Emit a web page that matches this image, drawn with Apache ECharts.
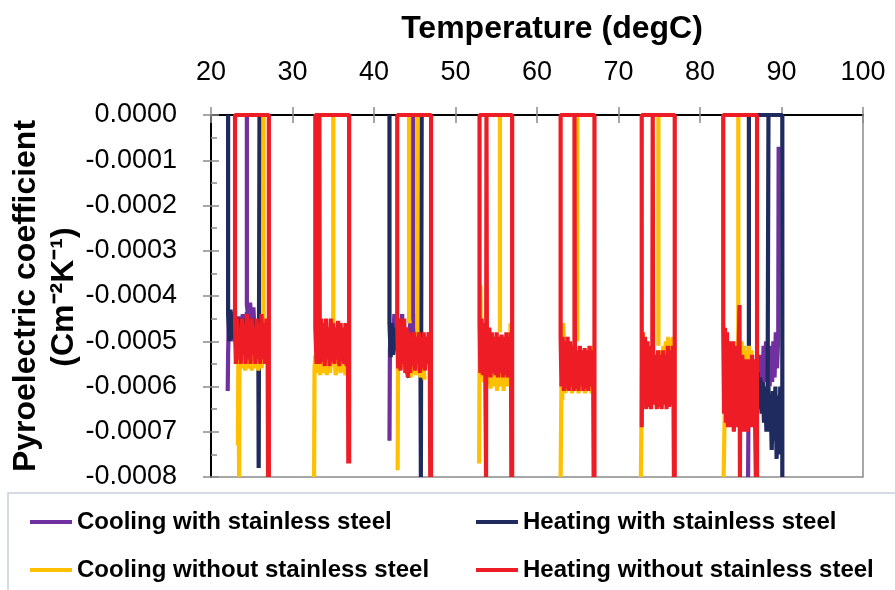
<!DOCTYPE html>
<html><head><meta charset="utf-8">
<script src="https://cdn.jsdelivr.net/npm/echarts@6/dist/echarts.min.js"></script>
<style>html,body{margin:0;padding:0;background:#fff}#c{width:895px;height:590px}</style>
</head><body><div id="c"></div>
<script>
// ---------- chart values ----------
const xTicks = [20, 30, 40, 50, 60, 70, 80, 90, 100];
const yTicks = [-0.0008, -0.0007, -0.0006, -0.0005, -0.0004, -0.0003, -0.0002, -0.0001, 0];
const xTitle = 'Temperature (degC)';
const yTitle1 = 'Pyroelectric coefficient';
const yTitle2 = '(Cm\u207B\u00B2K\u207B\u00B9)';
const seriesNames = ['Cooling with stainless steel', 'Heating with stainless steel',
                     'Cooling without stainless steel', 'Heating without stainless steel'];
const seriesColors = ['#7030A0', '#1F2A5E', '#FFC000', '#EE1C25'];

// each series: list of traced paths of [temperature, coefficient]
const coolingWithSS = [
 [[24.4,0],[24.4,-4.2e-4],[24.6,-4.5e-4],[24.8,-4.15e-4],[25.0,-4.6e-4],[25.2,-4.25e-4],[25.35,-4.8e-4],[25.15,-5.0e-4],[24.9,-4.3e-4],[24.65,-5.0e-4],[24.4,-4.35e-4],[24.15,-5.0e-4],[23.9,-4.4e-4],[23.65,-5.1e-4],[23.4,-4.45e-4],[23.15,-5.1e-4],[22.9,-4.4e-4],[22.65,-5.0e-4],[22.45,-4.35e-4],[22.3,-5.0e-4],[22.2,-4.4e-4],[22.1,-5.3e-4],[22.05,-6.1e-4]],
 [[44.8,0],[44.8,-4.5e-4],[45.0,-4.8e-4],[45.2,-4.4e-4],[45.4,-5.0e-4],[45.2,-5.3e-4],[44.95,-4.6e-4],[44.7,-5.3e-4],[44.45,-4.6e-4],[44.2,-5.4e-4],[43.95,-4.7e-4],[43.7,-5.4e-4],[43.45,-4.4e-4],[43.2,-5.3e-4],[42.95,-4.5e-4],[42.7,-5.2e-4],[42.5,-4.4e-4],[42.3,-5.1e-4],[42.1,-4.6e-4],[41.95,-5.2e-4],[41.9,-7.2e-4]],
 [[89.65,-0.7e-4],[89.6,-4.9e-4],[89.45,-5.6e-4],[89.3,-4.8e-4],[89.15,-5.8e-4],[89.0,-5.0e-4],[88.85,-5.9e-4],[88.7,-5.1e-4],[88.55,-6.0e-4],[88.4,-5.2e-4],[88.25,-5.8e-4],[88.1,-5.0e-4],[87.95,-5.9e-4],[87.8,-5.1e-4],[87.65,-6.0e-4],[87.5,-5.3e-4],[87.35,-6.2e-4],[87.2,-5.4e-4],[87.0,-6.0e-4],[86.7,-5.5e-4],[86.4,-6.1e-4],[86.1,-5.6e-4],[85.95,-6.5e-4],[85.9,-8e-4]]
];
const heatingWithSS = [
 [[22.1,0],[22.1,-4.4e-4],[22.25,-5.0e-4],[22.4,-4.3e-4],[22.55,-4.95e-4],[22.8,-4.4e-4],[23.1,-5.2e-4],[23.5,-4.5e-4],[23.9,-5.2e-4],[24.3,-4.5e-4],[24.7,-5.2e-4],[25.1,-4.5e-4],[25.5,-5.2e-4],[25.8,-4.6e-4],[25.85,-7.8e-4],[25.95,0]],
 [[41.9,0],[41.9,-4.6e-4],[42.05,-5.35e-4],[42.2,-4.6e-4],[42.35,-5.3e-4],[42.7,-4.7e-4],[43.1,-5.5e-4],[43.5,-4.8e-4],[43.9,-5.6e-4],[44.3,-5.8e-4],[44.7,-4.9e-4],[45.1,-5.6e-4],[45.5,-4.9e-4],[45.7,-5.3e-4],[45.75,-8e-4],[45.85,0]],
 [[90.1,-8e-4],[90.1,0],[86.0,0],[86.0,-5.2e-4],[86.3,-6.0e-4],[86.6,-5.5e-4],[86.9,-6.2e-4],[87.1,-5.7e-4],[87.25,-6.5e-4],[87.4,-5.8e-4],[87.55,-6.6e-4],[87.7,-5.9e-4],[87.85,-6.8e-4],[88.0,-6.0e-4],[88.15,-7.0e-4],[88.3,-5.9e-4],[88.4,0]],
 [[90.0,-6.8e-4],[89.85,-6.0e-4],[89.7,-7.5e-4],[89.55,-6.2e-4],[89.4,-7.6e-4],[89.25,-6.0e-4],[89.1,-7.2e-4],[88.95,-6.1e-4],[88.8,-7.4e-4],[88.65,-6.2e-4],[88.5,-7.0e-4],[88.4,-6.0e-4]]
];
const coolingWithoutSS = [
 [[26.45,0],[26.45,-4.6e-4],[26.4,-5.2e-4],[26.2,-5.6e-4],[26.0,-5.15e-4],[25.8,-5.65e-4],[25.6,-5.2e-4],[25.4,-5.6e-4],[25.2,-5.1e-4],[25.0,-5.65e-4],[24.8,-5.2e-4],[24.6,-5.6e-4],[24.4,-5.15e-4],[24.2,-5.65e-4],[24.0,-5.2e-4],[23.8,-5.6e-4],[23.6,-5.1e-4],[23.5,-5.5e-4],[23.45,-8e-4],[23.35,-5.4e-4],[23.3,-7.3e-4]],
 [[35.0,0],[35.0,-5.0e-4],[35.3,-5.75e-4],[35.6,-5.2e-4],[35.9,-5.7e-4],[36.2,-5.15e-4],[36.5,-5.75e-4],[36.8,-5.3e-4],[34.8,-5.2e-4],[34.6,-5.7e-4],[34.4,-5.1e-4],[34.2,-5.75e-4],[34.0,-5.2e-4],[33.8,-5.7e-4],[33.6,-5.15e-4],[33.4,-5.75e-4],[33.2,-5.2e-4],[33.0,-5.7e-4],[32.8,-5.3e-4],[32.7,-5.6e-4],[32.65,-8e-4]],
 [[44.3,-4.6e-4],[44.3,0],[45.3,0],[45.3,-4.7e-4],[45.6,-5.7e-4],[45.9,-5.2e-4],[46.2,-5.85e-4],[46.0,-5.3e-4],[45.7,-5.8e-4],[45.4,-5.1e-4],[45.1,-5.75e-4],[44.8,-5.0e-4],[44.5,-5.8e-4],[44.2,-5.1e-4],[43.9,-5.7e-4],[43.6,-5.0e-4],[43.3,-5.6e-4],[43.1,-5.0e-4],[42.95,-5.55e-4],[42.9,-7.85e-4]],
 [[55.45,0],[55.45,-4.8e-4]],
 [[56.75,-4.6e-4],[56.7,-5.9e-4],[56.5,-5.2e-4],[56.3,-6.0e-4],[56.1,-5.3e-4],[55.9,-6.1e-4],[55.7,-5.2e-4],[55.5,-6.0e-4],[55.3,-5.3e-4],[55.1,-6.1e-4],[54.9,-5.2e-4],[54.7,-6.0e-4],[54.5,-5.3e-4],[54.3,-6.05e-4],[54.1,-5.2e-4],[53.9,-5.95e-4],[53.7,-5.1e-4],[53.5,-5.9e-4],[53.3,-5.0e-4],[53.15,-5.8e-4],[53.05,-3.75e-4],[52.95,-5.5e-4],[52.9,-7.7e-4]],
 [[64.95,0],[64.95,-5.0e-4]],
 [[66.9,-5.1e-4],[66.7,-6.15e-4],[66.5,-5.3e-4],[66.3,-6.1e-4],[66.1,-5.4e-4],[65.9,-6.15e-4],[65.7,-5.3e-4],[65.5,-6.1e-4],[65.3,-5.4e-4],[65.1,-6.15e-4],[64.9,-5.3e-4],[64.7,-6.1e-4],[64.5,-5.4e-4],[64.3,-6.15e-4],[64.1,-5.3e-4],[63.9,-6.1e-4],[63.7,-5.2e-4],[63.5,-6.15e-4],[63.3,-4.9e-4],[63.2,-4.6e-4],[63.1,-6.3e-4],[63.0,-5.9e-4],[62.9,-8e-4]],
 [[74.9,0],[74.9,-5.1e-4]],
 [[76.7,-4.9e-4],[76.55,-5.8e-4],[76.4,-4.95e-4],[76.25,-5.9e-4],[76.1,-4.9e-4],[75.95,-5.8e-4],[75.8,-5.0e-4],[75.65,-5.9e-4],[75.5,-5.1e-4],[75.3,-6.0e-4],[75.1,-5.2e-4],[74.9,-6.0e-4],[74.7,-5.3e-4],[74.5,-6.1e-4],[74.3,-5.3e-4],[74.1,-6.0e-4],[73.9,-5.2e-4],[73.7,-6.1e-4],[73.5,-5.1e-4],[73.3,-6.0e-4],[73.1,-5.0e-4],[72.95,-4.8e-4],[72.85,-6.0e-4],[72.75,-8e-4]],
 [[84.7,0],[84.7,-5.0e-4]],
 [[86.6,-5.4e-4],[86.45,-6.2e-4],[86.3,-5.2e-4],[86.15,-6.3e-4],[86.0,-5.1e-4],[85.85,-6.2e-4],[85.7,-5.2e-4],[85.55,-6.3e-4],[85.4,-5.1e-4],[85.25,-6.2e-4],[85.1,-5.0e-4],[84.95,-6.1e-4],[84.8,-5.1e-4],[84.6,-6.2e-4],[84.4,-5.0e-4],[84.2,-6.3e-4],[84.0,-5.05e-4],[83.8,-6.4e-4],[83.6,-5.0e-4],[83.4,-6.5e-4],[83.2,-5.2e-4],[83.0,-6.9e-4],[82.9,-8e-4]]
];
const heatingWithoutSS = [
 [[27.1,-8e-4],[27.1,0],[22.95,0],[22.95,-4.6e-4],[23.05,-5.5e-4],[23.2,-4.5e-4],[23.35,-5.4e-4],[23.5,-4.7e-4],[23.65,-5.5e-4],[23.8,-4.5e-4],[23.95,-5.3e-4],[24.1,-4.6e-4],[24.25,-5.5e-4],[24.4,-4.4e-4],[24.55,-5.4e-4],[24.7,-4.6e-4],[24.85,-5.5e-4],[25.0,-4.5e-4],[25.15,-5.3e-4],[25.3,-4.7e-4],[25.45,-5.5e-4],[25.6,-4.5e-4],[25.75,-5.4e-4],[25.9,-4.6e-4],[26.05,-5.5e-4],[26.2,-4.4e-4],[26.35,-5.4e-4],[26.5,-4.6e-4],[26.65,-5.5e-4],[26.8,-4.5e-4],[26.95,-5.3e-4],[27.0,-8e-4]],
 [[36.95,-7.7e-4],[36.95,0],[32.8,0],[32.8,-4.7e-4],[32.95,-5.5e-4],[33.15,-4.6e-4],[33.3,-4.6e-4],[33.3,0],[33.35,-5.5e-4],[33.5,-4.5e-4],[33.65,-5.45e-4],[33.8,-4.6e-4],[33.95,-5.55e-4],[34.1,-4.5e-4],[34.25,-5.4e-4],[34.4,-4.7e-4],[34.55,-5.55e-4],[34.7,-4.5e-4],[34.85,-5.45e-4],[35.0,-4.6e-4],[35.15,-5.5e-4],[35.3,-4.7e-4],[35.45,-5.4e-4],[35.6,-4.55e-4],[35.75,-5.55e-4],[35.9,-4.6e-4],[36.05,-5.45e-4],[36.2,-4.7e-4],[36.35,-5.5e-4],[36.5,-4.6e-4],[36.65,-5.55e-4],[36.8,-4.7e-4],[36.85,-7.7e-4]],
 [[47.0,-8e-4],[47.0,0],[42.85,0],[42.85,-4.6e-4],[42.95,-5.6e-4],[43.1,-4.5e-4],[43.25,-5.65e-4],[43.4,-4.6e-4],[43.55,-5.5e-4],[43.7,-4.5e-4],[43.85,-5.7e-4],[44.0,-4.7e-4],[44.15,-5.8e-4],[44.3,-4.8e-4],[44.45,-5.7e-4],[44.6,-4.9e-4],[44.75,-5.55e-4],[44.9,-4.8e-4],[45.05,-5.65e-4],[45.2,-4.9e-4],[45.35,-5.5e-4],[45.5,-4.8e-4],[45.65,-5.7e-4],[45.8,-4.9e-4],[45.95,-5.6e-4],[46.1,-4.8e-4],[46.25,-5.65e-4],[46.4,-4.9e-4],[46.55,-5.5e-4],[46.7,-4.8e-4],[46.85,-5.6e-4],[46.9,-8e-4]],
 [[56.95,-8e-4],[56.95,0],[52.95,0],[52.95,-4.6e-4],[53.05,-5.7e-4],[53.2,-4.5e-4],[53.35,-5.75e-4],[53.5,-4.6e-4],[53.65,-5.6e-4],[53.75,-8e-4],[53.8,0],[53.85,-4.8e-4],[54.0,-5.75e-4],[54.15,-4.7e-4],[54.3,-5.8e-4],[54.45,-4.8e-4],[54.6,-5.7e-4],[54.75,-4.9e-4],[54.9,-5.75e-4],[55.05,-4.8e-4],[55.2,-5.8e-4],[55.35,-4.9e-4],[55.5,-5.7e-4],[55.65,-4.85e-4],[55.8,-5.8e-4],[55.95,-4.9e-4],[56.1,-5.75e-4],[56.25,-4.8e-4],[56.4,-5.8e-4],[56.55,-4.9e-4],[56.7,-5.75e-4],[56.8,-4.8e-4],[56.85,-8e-4]],
 [[67.05,-8e-4],[67.05,0],[62.9,0],[62.9,-4.9e-4],[63.0,-6.0e-4],[63.15,-4.9e-4],[63.3,-6.1e-4],[63.45,-5.0e-4],[63.6,-6.05e-4],[63.75,-4.9e-4],[63.9,-6.1e-4],[64.05,-5.0e-4],[64.2,-6.0e-4],[64.35,-5.1e-4],[64.5,-6.1e-4],[64.6,-5.0e-4],[64.6,0],[64.65,-5.1e-4],[64.8,-6.05e-4],[64.95,-5.2e-4],[65.1,-6.1e-4],[65.25,-5.1e-4],[65.4,-6.0e-4],[65.55,-5.2e-4],[65.7,-6.1e-4],[65.85,-5.15e-4],[66.0,-6.05e-4],[66.15,-5.2e-4],[66.3,-6.1e-4],[66.45,-5.1e-4],[66.6,-6.0e-4],[66.75,-5.2e-4],[66.9,-6.05e-4],[66.95,-8e-4]],
 [[76.9,-8e-4],[76.9,0],[72.85,0],[72.85,-6.9e-4],[72.95,-4.8e-4],[73.1,-6.4e-4],[73.25,-4.9e-4],[73.4,-6.5e-4],[73.55,-5.0e-4],[73.7,-6.45e-4],[73.85,-5.1e-4],[74.0,-6.5e-4],[74.15,-5.1e-4],[74.2,0],[74.25,-5.2e-4],[74.4,-6.4e-4],[74.55,-5.3e-4],[74.7,-6.5e-4],[74.85,-5.2e-4],[75.0,-6.45e-4],[75.15,-5.3e-4],[75.3,-6.5e-4],[75.45,-5.2e-4],[75.6,-6.4e-4],[75.75,-5.3e-4],[75.9,-6.5e-4],[76.05,-5.1e-4],[76.2,-6.45e-4],[76.35,-5.2e-4],[76.5,-6.4e-4],[76.65,-5.1e-4],[76.75,-6.3e-4],[76.8,-8e-4]],
 [[87.0,-8e-4],[87.0,0],[82.85,0],[82.85,-4.7e-4],[82.95,-6.6e-4],[83.07,-4.7e-4],[83.19,-6.8e-4],[83.31,-4.8e-4],[83.43,-6.9e-4],[83.55,-5.0e-4],[83.67,-6.7e-4],[83.79,-5.2e-4],[83.91,-6.9e-4],[84.03,-5.0e-4],[84.15,-7.0e-4],[84.27,-5.2e-4],[84.39,-6.8e-4],[84.51,-5.1e-4],[84.63,-6.9e-4],[84.75,-5.1e-4],[84.85,-4.2e-4],[84.9,-8e-4],[84.95,-5.3e-4],[85.07,-6.9e-4],[85.19,-5.3e-4],[85.31,-7.0e-4],[85.43,-5.4e-4],[85.55,-6.8e-4],[85.67,-5.5e-4],[85.79,-7.0e-4],[85.91,-5.4e-4],[86.03,-6.9e-4],[86.15,-5.5e-4],[86.27,-6.8e-4],[86.39,-5.3e-4],[86.51,-6.9e-4],[86.63,-5.4e-4],[86.75,-6.7e-4],[86.85,-8e-4]]
];
const seriesPaths = [coolingWithSS, heatingWithSS, coolingWithoutSS, heatingWithoutSS];

// ---------- build ----------
function joinPaths(paths) {
  const out = [];
  paths.forEach((p, i) => { if (i) out.push(['-', '-']); p.forEach(pt => out.push(pt)); });
  return out;
}
const FONT = "'Liberation Sans', Arial, sans-serif";
const G = {left: 211, right: 32, top: 115, bottom: 113};
const xMin = xTicks[0], xMax = xTicks[xTicks.length - 1], xInt = xTicks[1] - xTicks[0];
const yMin = yTicks[0], yMax = yTicks[yTicks.length - 1], yInt = 0.0001;

const chart = echarts.init(document.getElementById('c'), null, {renderer: 'canvas'});
const legendText = {fontFamily: FONT, fontSize: 24, fontWeight: 'bold', color: '#000'};
chart.setOption({
  animation: false,
  backgroundColor: '#fff',
  grid: [
    Object.assign({show: true, borderColor: '#8a8a8a', borderWidth: 1.5, backgroundColor: 'transparent'}, G),
    Object.assign({show: false}, G)
  ],
  xAxis: [
    {type: 'value', gridIndex: 0, position: 'top', min: xMin, max: xMax, interval: xInt,
     axisLine: {show: true, lineStyle: {color: '#000', width: 2}},
     axisTick: {show: true, inside: false, length: 8, lineStyle: {color: '#8a8a8a', width: 1.5}},
     axisLabel: {margin: 29, fontFamily: FONT, fontSize: 27, color: '#000'},
     splitLine: {show: false}},
    {type: 'value', gridIndex: 1, position: 'top', min: xMin, max: xMax, interval: xInt,
     axisLine: {show: false},
     axisTick: {show: true, inside: true, length: 8, lineStyle: {color: '#8a8a8a', width: 1.5}},
     axisLabel: {show: false}, splitLine: {show: false}}
  ],
  yAxis: [
    {type: 'value', gridIndex: 0, position: 'left', min: yMin, max: yMax, interval: yInt,
     axisLine: {show: true, lineStyle: {color: '#000', width: 2}},
     axisTick: {show: true, inside: false, length: 8, lineStyle: {color: '#8a8a8a', width: 1.5}},
     axisLabel: {margin: 34, fontFamily: FONT, fontSize: 27, color: '#000',
       formatter: v => Math.abs(v) < 1e-9 ? '0.0000' : v.toFixed(4)},
     splitLine: {show: false}},
    {type: 'value', gridIndex: 1, position: 'left', min: yMin, max: yMax, interval: yInt,
     axisLine: {show: false},
     axisTick: {show: true, inside: true, length: 8, lineStyle: {color: '#8a8a8a', width: 1.5}},
     minorTick: {show: true, splitNumber: 2, length: 6, lineStyle: {color: '#8a8a8a', width: 1.5}},
     axisLabel: {show: false}, splitLine: {show: false}}
  ],
  legend: [
    {orient: 'vertical', left: 30, top: 510, padding: 0, itemGap: 24, itemWidth: 42, itemHeight: 4,
     icon: 'rect', data: [seriesNames[0], seriesNames[2]], textStyle: legendText, selectedMode: false},
    {orient: 'vertical', left: 476, top: 510, padding: 0, itemGap: 24, itemWidth: 42, itemHeight: 4,
     icon: 'rect', data: [seriesNames[1], seriesNames[3]], textStyle: legendText, selectedMode: false}
  ],
  graphic: [
    {type: 'text', x: 552, y: 29, silent: true,
     style: {text: xTitle, fontFamily: FONT, fontSize: 32, fontWeight: 'bold', fill: '#000',
             textAlign: 'center', align: 'center', textVerticalAlign: 'middle', verticalAlign: 'middle'}},
    {type: 'text', x: 26, y: 296, rotation: Math.PI / 2, silent: true,
     style: {text: yTitle1, fontFamily: FONT, fontSize: 32, fontWeight: 'bold', fill: '#000',
             textAlign: 'center', align: 'center', textVerticalAlign: 'middle', verticalAlign: 'middle'}},
    {type: 'text', x: 64, y: 297, rotation: Math.PI / 2, silent: true,
     style: {text: yTitle2, fontFamily: FONT, fontSize: 32, fontWeight: 'bold', fill: '#000',
             textAlign: 'center', align: 'center', textVerticalAlign: 'middle', verticalAlign: 'middle'}},
    {type: 'rect', silent: true, z: -10,
     shape: {x: 8, y: 493, width: 900, height: 110},
     style: {fill: 'none', stroke: '#c6d0dc', lineWidth: 1.5}}
  ],
  series: seriesPaths.map((paths, i) => ({
    type: 'line', name: seriesNames[i], xAxisIndex: 0, yAxisIndex: 0,
    data: joinPaths(paths), showSymbol: false, symbol: 'none', clip: false,
    connectNulls: false, silent: true, emphasis: {disabled: true},
    color: seriesColors[i],
    itemStyle: {color: seriesColors[i]},
    lineStyle: {color: seriesColors[i], width: 4.2, join: 'bevel'}
  }))
});
</script></body></html>
